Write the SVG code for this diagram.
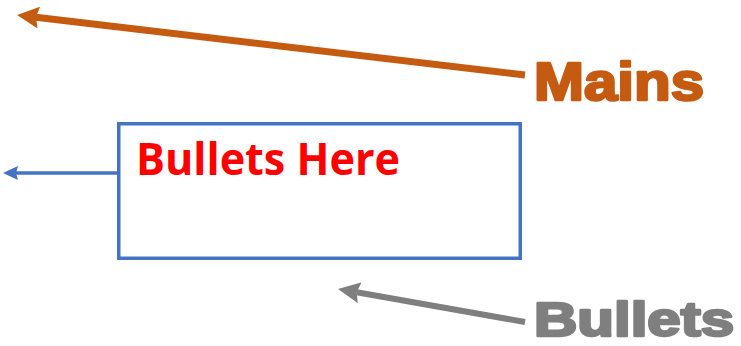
<svg xmlns="http://www.w3.org/2000/svg" width="741" height="346" viewBox="0 0 741 346">
  <style>
    .heavy { font-family: "Liberation Sans", Arial, sans-serif; font-weight: 900; stroke-linejoin: round; }
    .label { font-family: "Open Sans", "Liberation Sans", sans-serif; font-weight: 700; }
    .conn { fill: none; stroke-linecap: butt; }
  </style>
  <defs>
    <marker id="hOrange" markerUnits="userSpaceOnUse" markerWidth="22" markerHeight="22" viewBox="0 0 22 22" refX="3" refY="11" orient="auto">
      <path d="M0,0 L22,11 L0,22 L3,11 z" fill="#C55A11"/>
    </marker>
    <marker id="hGray" markerUnits="userSpaceOnUse" markerWidth="22" markerHeight="21" viewBox="0 0 22 21" refX="3" refY="10.5" orient="auto">
      <path d="M0,0 L22,10.5 L0,21 L3,10.5 z" fill="#7F7F7F"/>
    </marker>
    <marker id="hBlue" markerUnits="userSpaceOnUse" markerWidth="15" markerHeight="14" viewBox="0 0 15 14" refX="2" refY="7" orient="auto">
      <path d="M0,0 L15,7 L0,14 L2,7 z" fill="#4472C4"/>
    </marker>
  </defs>
  <rect width="741" height="346" fill="#FFFFFF"/>
  <g id="connectors">
    <path class="conn" d="M525,75 L35.9,17.2" stroke="#C55A11" stroke-width="7" marker-end="url(#hOrange)"/>
    <path class="conn" d="M117,173 L16,173" stroke="#4472C4" stroke-width="3.5" marker-end="url(#hBlue)"/>
    <path class="conn" d="M525,322 L356.7,292.3" stroke="#7F7F7F" stroke-width="6" marker-end="url(#hGray)"/>
  </g>
  <g id="mains">
    <text class="heavy" x="534" y="100" font-size="53" fill="#C55A11" stroke="#C55A11" stroke-width="2.6" textLength="170" lengthAdjust="spacingAndGlyphs">Mains</text>
  </g>
  <g id="box">
    <rect x="118.75" y="123.75" width="401.5" height="134.5" fill="#FFFFFF" stroke="#4472C4" stroke-width="3.5"/>
    <text class="label" x="136" y="175" font-size="44" fill="#FF0000" textLength="264" lengthAdjust="spacingAndGlyphs">Bullets Here</text>
  </g>
  <g id="bullets">
    <text class="heavy" x="534" y="336" font-size="48" fill="#7F7F7F" stroke="#7F7F7F" stroke-width="2.6" textLength="200" lengthAdjust="spacingAndGlyphs">Bullets</text>
  </g>
</svg>
